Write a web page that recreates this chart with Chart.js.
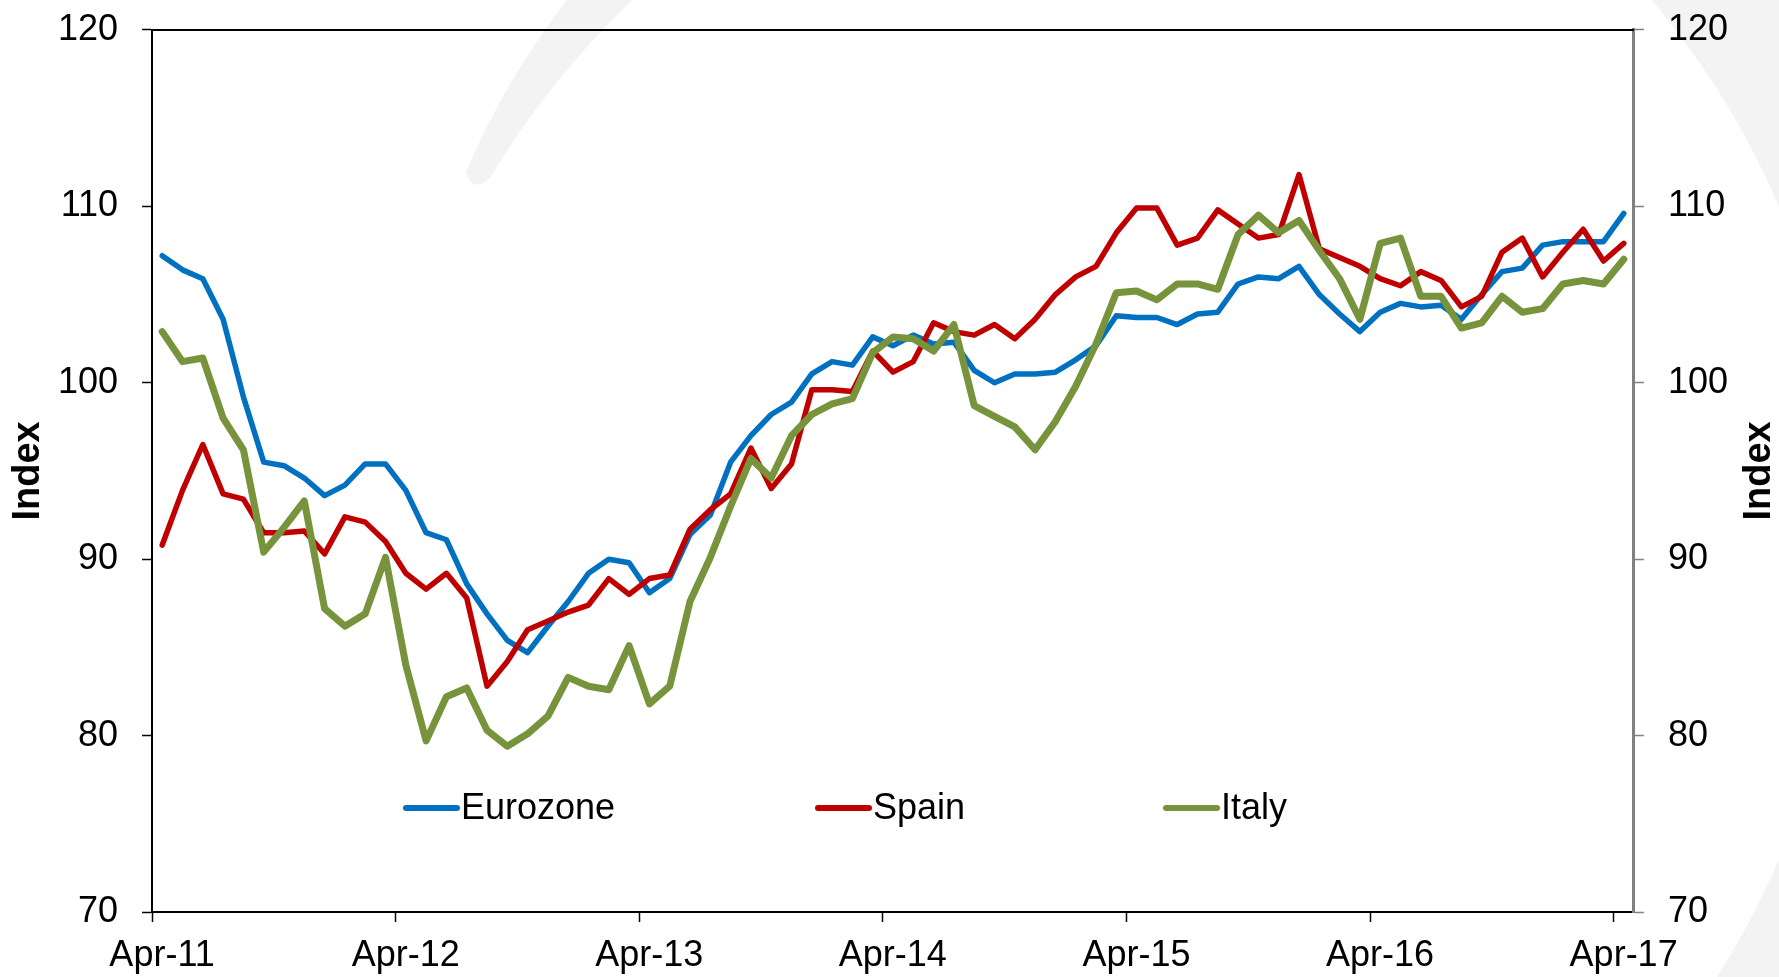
<!DOCTYPE html>
<html lang="en">
<head>
<meta charset="UTF-8">
<title>Eurozone, Spain and Italy index</title>
<style>
    html, body {
        margin: 0;
        padding: 0;
        background: #ffffff;
    }

    #wrap {
        width: 1779px;
        height: 977px;
    }

    canvas {
        display: block;
    }
</style>
</head>
<body>
<div id="wrap">
    <canvas id="chart" width="1779" height="977"></canvas>
</div>

<script src="https://cdn.jsdelivr.net/npm/chart.js@4/dist/chart.umd.min.js"></script>
<script>
    // monthly observations, Apr-11 .. Apr-17 (plotted mid-month)
    var monthNames = ['Jan', 'Feb', 'Mar', 'Apr', 'May', 'Jun', 'Jul', 'Aug', 'Sep', 'Oct', 'Nov', 'Dec'];
    var months = [];
    for (var m = 0; m < 73; m++) {
        var mi = (3 + m) % 12;
        var yr = 11 + Math.floor((3 + m) / 12);
        months.push(monthNames[mi] + '-' + yr);
    }

    var tickLabels = ['Apr-11', 'Apr-12', 'Apr-13', 'Apr-14', 'Apr-15', 'Apr-16', 'Apr-17'];

    var eurozone = [
        107.2, 106.4, 105.9, 103.6, 99.2, 95.5, 95.3, 94.6, 93.6, 94.2, 95.4, 95.4,
        93.9, 91.5, 91.1, 88.6, 86.9, 85.4, 84.7, 86.2, 87.6, 89.2, 90.0, 89.8,
        88.1, 88.9, 91.4, 92.5, 95.5, 97.0, 98.2, 98.9, 100.5, 101.2, 101.0, 102.6,
        102.1, 102.7, 102.2, 102.3, 100.7, 100.0, 100.5, 100.5, 100.6, 101.3, 102.1, 103.8,
        103.7, 103.7, 103.3, 103.9, 104.0, 105.6, 106.0, 105.9, 106.6, 105.0, 103.9, 102.9,
        104.0, 104.5, 104.3, 104.4, 103.6, 105.0, 106.3, 106.5, 107.8, 108.0, 108.0, 108.0,
        109.6
    ];

    var spain = [
        90.8, 93.9, 96.5, 93.7, 93.4, 91.5, 91.5, 91.6, 90.3, 92.4, 92.1, 91.0,
        89.2, 88.3, 89.2, 87.8, 82.8, 84.2, 86.0, 86.5, 87.0, 87.4, 88.9, 88.0,
        88.9, 89.1, 91.7, 92.8, 93.7, 96.3, 94.0, 95.4, 99.6, 99.6, 99.5, 101.8,
        100.6, 101.2, 103.4, 102.9, 102.7, 103.3, 102.5, 103.6, 105.0, 106.0, 106.6, 108.5,
        109.9, 109.9, 107.8, 108.2, 109.8, 109.0, 108.2, 108.4, 111.8, 107.6, 107.1, 106.6,
        105.9, 105.5, 106.3, 105.8, 104.3, 104.9, 107.4, 108.2, 106.0, 107.4, 108.7, 106.9,
        107.9
    ];

    var italy = [
        102.9, 101.2, 101.4, 98.0, 96.2, 90.4, 91.8, 93.3, 87.2, 86.2, 86.9, 90.1,
        84.0, 79.7, 82.2, 82.7, 80.3, 79.4, 80.1, 81.1, 83.3, 82.8, 82.6, 85.1,
        81.8, 82.8, 87.6, 90.1, 93.0, 95.7, 94.6, 97.0, 98.2, 98.8, 99.1, 101.7,
        102.6, 102.5, 101.8, 103.3, 98.7, 98.1, 97.5, 96.2, 97.8, 99.8, 102.2, 105.1,
        105.2, 104.7, 105.6, 105.6, 105.3, 108.4, 109.5, 108.5, 109.2, 107.5, 105.9, 103.6,
        107.9, 108.2, 104.9, 104.9, 103.1, 103.4, 104.9, 104.0, 104.2, 105.6, 105.8, 105.6,
        107.0
    ];

    var FONT = "'Liberation Sans', Arial, sans-serif";

    function toPoints(values) {
        return values.map(function (v, i) {
            return {x: i + 0.5, y: v};
        });
    }

    // faint swoosh watermark behind the chart
    var watermark = {
        id: 'watermark',
        beforeDraw: function (chart) {
            var ctx = chart.ctx;
            ctx.save();
            ctx.fillStyle = '#ffffff';
            ctx.fillRect(0, 0, chart.width, chart.height);

            ctx.fillStyle = '#f3f3f3';
            ctx.beginPath();
            ctx.moveTo(567, 0);
            ctx.quadraticCurveTo(505, 80, 466, 172);
            ctx.quadraticCurveTo(472, 194, 490, 178);
            ctx.quadraticCurveTo(545, 85, 632, 0);
            ctx.closePath();
            ctx.fill();

            ctx.strokeStyle = '#f3f3f3';
            ctx.lineWidth = 150;
            ctx.beginPath();
            ctx.arc(1018, 533, 903, -Math.PI / 3, Math.PI / 4);
            ctx.stroke();
            ctx.restore();
        }
    };

    // top frame line, right axis title and the in-plot legend
    var extras = {
        id: 'extras',
        afterDraw: function (chart) {
            var ctx = chart.ctx;
            var area = chart.chartArea;
            ctx.save();

            ctx.strokeStyle = '#000000';
            ctx.lineWidth = 2;
            ctx.beginPath();
            ctx.moveTo(area.left, area.top);
            ctx.lineTo(area.right, area.top);
            ctx.stroke();

            ctx.fillStyle = '#000000';
            ctx.font = 'bold 38px ' + FONT;
            ctx.textAlign = 'center';
            ctx.textBaseline = 'middle';
            ctx.translate(1760, (area.top + area.bottom) / 2);
            ctx.rotate(-Math.PI / 2);
            ctx.fillText('Index', 0, 0);
            ctx.restore();

            var legendX = [403, 815, 1163];
            var legendY = 808;
            ctx.save();
            ctx.font = '36px ' + FONT;
            ctx.textAlign = 'left';
            ctx.textBaseline = 'middle';
            ctx.lineCap = 'round';
            chart.data.datasets.forEach(function (ds, i) {
                ctx.strokeStyle = ds.borderColor;
                ctx.lineWidth = 6;
                ctx.beginPath();
                ctx.moveTo(legendX[i] + 3, legendY);
                ctx.lineTo(legendX[i] + 54, legendY);
                ctx.stroke();
                ctx.fillStyle = '#000000';
                ctx.fillText(ds.label, legendX[i] + 58, legendY + 1);
            });
            ctx.restore();
        }
    };

    var ctx = document.getElementById('chart').getContext('2d');
    var chart = new Chart(ctx, {
        type: 'line',
        data: {
            datasets: [{
                label: 'Eurozone',
                data: toPoints(eurozone),
                borderColor: '#0070C0',
                borderWidth: 5.5,
                order: 3
            }, {
                label: 'Spain',
                data: toPoints(spain),
                borderColor: '#C00000',
                borderWidth: 5.5,
                order: 2
            }, {
                label: 'Italy',
                data: toPoints(italy),
                borderColor: '#77933C',
                borderWidth: 7,
                order: 1
            }]
        },
        options: {
            responsive: false,
            animation: false,
            devicePixelRatio: 1,
            layout: {
                // chart.js counts tick padding twice when sizing the axes
                padding: {left: 10, right: 27, top: 0, bottom: -13}
            },
            elements: {
                line: {tension: 0, borderJoinStyle: 'round', borderCapStyle: 'round', fill: false},
                point: {radius: 0, hoverRadius: 0}
            },
            plugins: {
                legend: {display: false},
                tooltip: {enabled: false}
            },
            scales: {
                x: {
                    type: 'linear',
                    position: 'bottom',
                    min: 0,
                    max: 73,
                    ticks: {
                        stepSize: 12,
                        includeBounds: false,
                        autoSkip: false,
                        maxRotation: 0,
                        padding: 16,
                        labelOffset: 10,
                        color: '#000000',
                        font: {size: 36, family: FONT, lineHeight: 1},
                        callback: function (v) {
                            return tickLabels[v / 12];
                        }
                    },
                    grid: {drawOnChartArea: false, tickLength: 10, tickColor: '#000000', tickWidth: 1.5},
                    border: {color: '#000000', width: 2}
                },
                y: {
                    type: 'linear',
                    position: 'left',
                    min: 70,
                    max: 120,
                    ticks: {
                        stepSize: 10,
                        padding: 24,
                        color: '#000000',
                        font: {size: 36, family: FONT, lineHeight: 0.33}
                    },
                    grid: {drawOnChartArea: false, tickLength: 10, tickColor: '#000000', tickWidth: 1.5},
                    border: {color: '#000000', width: 2},
                    title: {
                        display: true,
                        text: 'Index',
                        color: '#000000',
                        font: {size: 38, weight: 'bold', family: FONT, lineHeight: 1},
                        padding: {top: 0, bottom: -14}
                    }
                },
                y2: {
                    type: 'linear',
                    position: 'right',
                    min: 70,
                    max: 120,
                    ticks: {
                        stepSize: 10,
                        padding: 24,
                        color: '#000000',
                        font: {size: 36, family: FONT, lineHeight: 0.33}
                    },
                    grid: {drawOnChartArea: false, tickLength: 10, tickColor: '#808080', tickWidth: 1.5},
                    border: {color: '#808080', width: 3}
                }
            }
        },
        plugins: [watermark, extras]
    });
</script>
</body>
</html>
